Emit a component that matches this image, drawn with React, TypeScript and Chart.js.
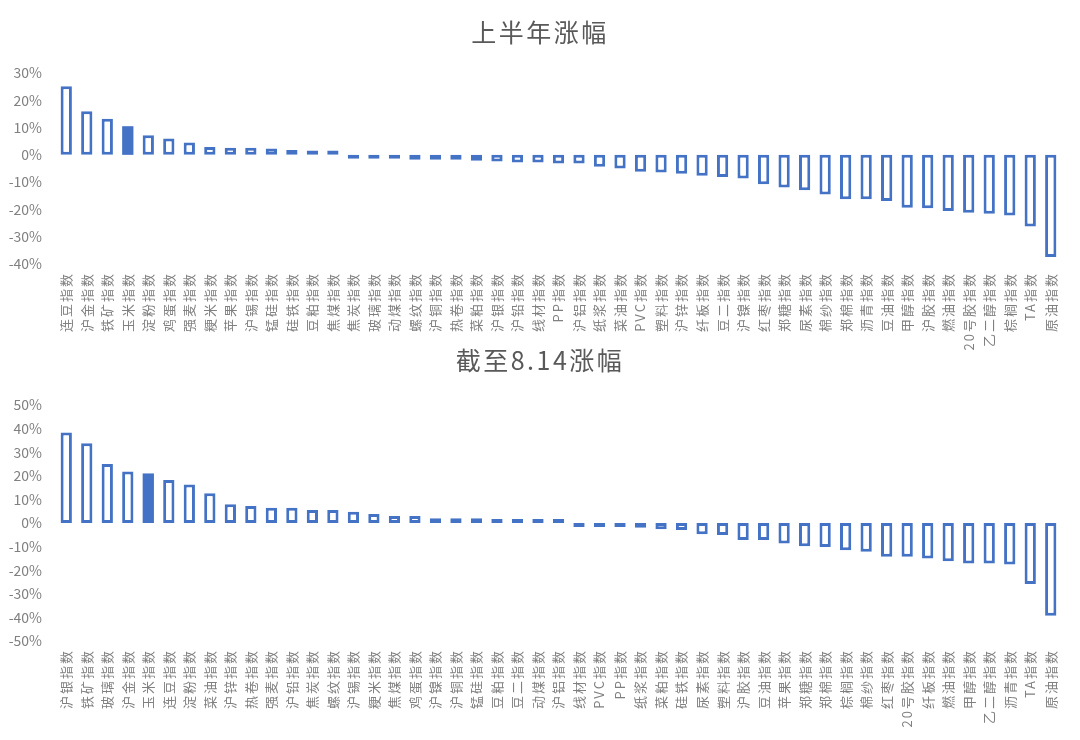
import React, { useEffect, useRef } from "react";
import { Chart, registerables } from "chart.js";

Chart.register(...registerables);

// ---------- data ----------
const title1 = "上半年涨幅";
const categories1 = [
  "连豆指数", "沪金指数", "铁矿指数", "玉米指数", "淀粉指数", "鸡蛋指数", "强麦指数",
  "粳米指数", "苹果指数", "沪锡指数", "锰硅指数", "硅铁指数", "豆粕指数", "焦煤指数",
  "焦炭指数", "玻璃指数", "动煤指数", "螺纹指数", "沪铜指数", "热卷指数", "菜粕指数",
  "沪银指数", "沪铅指数", "线材指数", "PP指数", "沪铝指数", "纸浆指数", "菜油指数",
  "PVC指数", "塑料指数", "沪锌指数", "纤板指数", "豆二指数", "沪镍指数", "红枣指数",
  "郑糖指数", "尿素指数", "棉纱指数", "郑棉指数", "沥青指数", "豆油指数", "甲醇指数",
  "沪胶指数", "燃油指数", "20号胶指数", "乙二醇指数", "棕榈指数", "TA指数", "原油指数",
];
const values1 = [
  25.1, 16.0, 13.2, 10.5, 7.2, 6.0, 4.5,
  2.9, 2.6, 2.6, 2.3, 1.8, 1.6, 1.6,
  -0.4, -0.5, -0.7, -1.8, -1.8, -1.8, -2.2,
  -2.4, -2.8, -2.8, -3.2, -3.2, -4.4, -5.0,
  -6.2, -6.5, -6.9, -7.7, -8.1, -8.7, -10.8,
  -12.0, -13.0, -14.5, -16.3, -16.3, -16.9, -19.4,
  -19.6, -20.6, -21.2, -21.6, -22.2, -26.3, -37.4,
];
const yMin1 = -40;
const yMax1 = 30;

const title2 = "截至8.14涨幅";
const categories2 = [
  "沪银指数", "铁矿指数", "玻璃指数", "沪金指数", "玉米指数", "连豆指数", "淀粉指数",
  "菜油指数", "沪锌指数", "热卷指数", "强麦指数", "沪铅指数", "焦炭指数", "螺纹指数",
  "沪锡指数", "粳米指数", "焦煤指数", "鸡蛋指数", "沪镍指数", "沪铜指数", "锰硅指数",
  "豆粕指数", "豆二指数", "动煤指数", "沪铝指数", "线材指数", "PVC指数", "PP指数",
  "纸浆指数", "菜粕指数", "硅铁指数", "尿素指数", "塑料指数", "沪胶指数", "豆油指数",
  "苹果指数", "郑糖指数", "郑棉指数", "棕榈指数", "棉纱指数", "红枣指数", "20号胶指数",
  "纤板指数", "燃油指数", "甲醇指数", "乙二醇指数", "沥青指数", "TA指数", "原油指数",
];
const values2 = [
  38.4, 33.8, 25.0, 21.8, 21.0, 18.2, 16.3,
  12.6, 7.9, 7.2, 6.5, 6.5, 5.5, 5.5,
  4.8, 3.8, 3.0, 3.0, 2.0, 2.0, 2.0,
  1.7, 1.6, 1.6, 1.6, -0.3, -0.4, -0.5,
  -2.0, -2.7, -3.0, -4.8, -5.1, -7.2, -7.2,
  -8.7, -9.8, -10.2, -11.5, -12.2, -14.3, -14.3,
  -15.0, -16.2, -17.2, -17.2, -17.6, -25.8, -39.3,
];
const yMin2 = -50;
const yMax2 = 50;

const highlighted = "玉米指数";
const yStep = 10;

// ---------- styles ----------
const BLUE = "#4472C4";
const FONT = "'Noto Sans CJK SC', 'Noto Sans', sans-serif";

const spacingPlugin = {
  id: "letterSpacingPatch",
  afterLayout(chart: any) {
    const ctx = chart.ctx as any;
    const x = chart.scales && chart.scales.x;
    if (x && !x.__sp) {
      const orig = x.drawLabels.bind(x);
      x.drawLabels = (area: any) => {
        ctx.save();
        ctx.letterSpacing = "2px";
        orig(area);
        ctx.restore();
      };
      x.__sp = true;
    }
    const t = chart.titleBlock;
    if (t) {
      // centre the title on the whole canvas rather than on the padded box
      t.left = 0;
      t.right = chart.width;
      if (!t.__sp) {
        const origT = t.draw.bind(t);
        t.draw = (area: any) => {
          ctx.save();
          ctx.letterSpacing = "2.5px";
          origT(area);
          ctx.restore();
        };
        t.__sp = true;
      }
    }
  },
};

type PanelProps = {
  title: string;
  labels: string[];
  values: number[];
  min: number;
  max: number;
  top: number;
  height: number;
  titlePadTop: number;
  titlePadBottom: number;
  xAxisHeight: number;
};

function BarPanel(p: PanelProps) {
  const ref = useRef<HTMLCanvasElement | null>(null);
  useEffect(() => {
    if (!ref.current) return;
    const chart = new Chart(ref.current, {
      type: "bar",
      data: {
        labels: p.labels,
        datasets: [
          {
            data: p.values,
            backgroundColor: p.labels.map((l) => (l === highlighted ? BLUE : "#FFFFFF")),
            borderColor: BLUE,
            borderWidth: p.labels.map((l) => (l === highlighted ? 0 : 3)),
            inflateAmount: 0,
            borderSkipped: false,
            barPercentage: 0.55,
            categoryPercentage: 1,
            minBarLength: 4,
          } as any,
        ],
      },
      options: {
        responsive: false,
        animation: false,
        devicePixelRatio: 1,
        layout: { padding: { left: 0, right: 19, top: 0, bottom: 0 } },
        plugins: {
          legend: { display: false },
          tooltip: { enabled: false },
          title: {
            display: true,
            text: p.title,
            color: "#595959",
            font: { family: FONT, size: 25, weight: "normal", lineHeight: 1.2 },
            padding: { top: p.titlePadTop, bottom: p.titlePadBottom },
          },
        },
        scales: {
          x: {
            grid: { display: false, drawTicks: false },
            border: { display: false },
            ticks: {
              autoSkip: false,
              maxRotation: 90,
              minRotation: 90,
              padding: 8,
              color: "#808080",
              font: { family: FONT, size: 13 },
            },
            afterFit: (s: any) => {
              s.height = p.xAxisHeight;
            },
          },
          y: {
            min: p.min,
            max: p.max,
            grid: { display: false, drawTicks: false },
            border: { display: false },
            ticks: {
              stepSize: yStep,
              padding: 14,
              color: "#808080",
              font: { family: FONT, size: 14 },
              callback: (v: any) => `${v}%`,
            },
            afterFit: (s: any) => {
              s.width = 56;
            },
          },
        },
      },
      plugins: [spacingPlugin],
    });
    return () => chart.destroy();
  }, []);
  return (
    <canvas
      ref={ref}
      width={1080}
      height={p.height}
      style={{ position: "absolute", left: 0, top: p.top, width: 1080, height: p.height }}
    />
  );
}

export default function App() {
  return (
    <div style={{ position: "absolute", left: 0, top: 0, width: 1080, height: 740, background: "#fff" }}>
      <BarPanel
        title={title1}
        labels={categories1}
        values={values1}
        min={yMin1}
        max={yMax1}
        top={0}
        height={358}
        titlePadTop={17}
        titlePadBottom={26}
        xAxisHeight={94}
      />
      <BarPanel
        title={title2}
        labels={categories2}
        values={values2}
        min={yMin2}
        max={yMax2}
        top={340}
        height={400}
        titlePadTop={5}
        titlePadBottom={30}
        xAxisHeight={99}
      />
    </div>
  );
}
